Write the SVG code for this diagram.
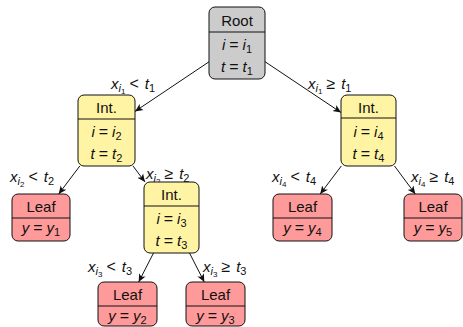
<svg xmlns="http://www.w3.org/2000/svg" width="463" height="327" viewBox="0 0 463 327">
<defs>
<style>
text{font-family:"Liberation Sans",Arial,sans-serif;font-size:15px;fill:#111}
.c{text-anchor:middle}
.m{font-style:italic}
.s{font-size:11px}
.ss{font-size:8px}
.op{font-size:16px}
.box{stroke:#111;stroke-width:1}
.root{fill:#cccccc}
.int{fill:#fff4a3}
.leaf{fill:#ff9a9a}
.div{stroke:#111;stroke-width:1}
.edge{stroke:#111;stroke-width:1;fill:none;marker-end:url(#ah)}
</style>
<marker id="ah" viewBox="0 0 10 10" refX="10" refY="5" markerWidth="8" markerHeight="8" markerUnits="userSpaceOnUse" orient="auto">
<path d="M0,0.5 L10,5 L0,9.5 L2.5,5 Z" fill="#111"/>
</marker>
</defs>
<g id="connectors">
<line class="edge" x1="209" y1="61.8" x2="135" y2="111.4"/>
<line class="edge" x1="265" y1="61.7" x2="341" y2="112.5"/>
<line class="edge" x1="79.8" y1="166" x2="58.7" y2="194"/>
<line class="edge" x1="133" y1="166" x2="145" y2="182"/>
<line class="edge" x1="153.5" y1="253" x2="138.7" y2="282"/>
<line class="edge" x1="189.5" y1="253" x2="204.3" y2="282"/>
<line class="edge" x1="341.3" y1="166" x2="320.2" y2="194"/>
<line class="edge" x1="394.5" y1="166" x2="415.3" y2="194"/>
</g>
<g id="labels">
<text x="111" y="89"><tspan class="m">x</tspan><tspan class="m s" dy="3">i</tspan><tspan class="ss" dy="2">1</tspan><tspan class="op" dy="-5" dx="4">&lt;</tspan><tspan class="m" dx="6">t</tspan><tspan class="s" dy="3">1</tspan></text>
<text x="308" y="89"><tspan class="m">x</tspan><tspan class="m s" dy="3">i</tspan><tspan class="ss" dy="2">1</tspan><tspan class="op" dy="-5" dx="4">≥</tspan><tspan class="m" dx="6">t</tspan><tspan class="s" dy="3">1</tspan></text>
<text x="10" y="182"><tspan class="m">x</tspan><tspan class="m s" dy="3">i</tspan><tspan class="ss" dy="2">2</tspan><tspan class="op" dy="-5" dx="4">&lt;</tspan><tspan class="m" dx="6">t</tspan><tspan class="s" dy="3">2</tspan></text>
<text x="146" y="179"><tspan class="m">x</tspan><tspan class="m s" dy="3">i</tspan><tspan class="ss" dy="2">2</tspan><tspan class="op" dy="-5" dx="4">≥</tspan><tspan class="m" dx="6">t</tspan><tspan class="s" dy="3">2</tspan></text>
<text x="88" y="272"><tspan class="m">x</tspan><tspan class="m s" dy="3">i</tspan><tspan class="ss" dy="2">3</tspan><tspan class="op" dy="-5" dx="4">&lt;</tspan><tspan class="m" dx="6">t</tspan><tspan class="s" dy="3">3</tspan></text>
<text x="203" y="272"><tspan class="m">x</tspan><tspan class="m s" dy="3">i</tspan><tspan class="ss" dy="2">3</tspan><tspan class="op" dy="-5" dx="4">≥</tspan><tspan class="m" dx="6">t</tspan><tspan class="s" dy="3">3</tspan></text>
<text x="272" y="182"><tspan class="m">x</tspan><tspan class="m s" dy="3">i</tspan><tspan class="ss" dy="2">4</tspan><tspan class="op" dy="-5" dx="4">&lt;</tspan><tspan class="m" dx="6">t</tspan><tspan class="s" dy="3">4</tspan></text>
<text x="411" y="182"><tspan class="m">x</tspan><tspan class="m s" dy="3">i</tspan><tspan class="ss" dy="2">4</tspan><tspan class="op" dy="-5" dx="4">≥</tspan><tspan class="m" dx="6">t</tspan><tspan class="s" dy="3">4</tspan></text>
</g>
<g id="root">
<rect class="box root" x="209" y="7" width="56" height="72" rx="6"/>
<line class="div" x1="209" y1="32" x2="265" y2="32"/>
<text class="c" x="237" y="26">Root</text>
<text class="c" x="237" y="50"><tspan class="m">i</tspan><tspan class="op" dx="4">=</tspan><tspan class="m" dx="4">i</tspan><tspan class="s" dy="3">1</tspan></text>
<text class="c" x="237" y="72"><tspan class="m">t</tspan><tspan class="op" dx="4">=</tspan><tspan class="m" dx="4">t</tspan><tspan class="s" dy="3">1</tspan></text>
</g>
<g id="int2">
<rect class="box int" x="78" y="95" width="57" height="71" rx="6"/>
<line class="div" x1="78" y1="119" x2="135" y2="119"/>
<text class="c" x="106.5" y="113">Int.</text>
<text class="c" x="106.5" y="137"><tspan class="m">i</tspan><tspan class="op" dx="4">=</tspan><tspan class="m" dx="4">i</tspan><tspan class="s" dy="3">2</tspan></text>
<text class="c" x="106.5" y="159"><tspan class="m">t</tspan><tspan class="op" dx="4">=</tspan><tspan class="m" dx="4">t</tspan><tspan class="s" dy="3">2</tspan></text>
</g>
<g id="int4">
<rect class="box int" x="341" y="95" width="55" height="71" rx="6"/>
<line class="div" x1="341" y1="118" x2="396" y2="118"/>
<text class="c" x="368.5" y="113">Int.</text>
<text class="c" x="368.5" y="137"><tspan class="m">i</tspan><tspan class="op" dx="4">=</tspan><tspan class="m" dx="4">i</tspan><tspan class="s" dy="3">4</tspan></text>
<text class="c" x="368.5" y="159"><tspan class="m">t</tspan><tspan class="op" dx="4">=</tspan><tspan class="m" dx="4">t</tspan><tspan class="s" dy="3">4</tspan></text>
</g>
<g id="int3">
<rect class="box int" x="144" y="182" width="55" height="71" rx="6"/>
<line class="div" x1="144" y1="206" x2="199" y2="206"/>
<text class="c" x="171.5" y="200">Int.</text>
<text class="c" x="171.5" y="224"><tspan class="m">i</tspan><tspan class="op" dx="4">=</tspan><tspan class="m" dx="4">i</tspan><tspan class="s" dy="3">3</tspan></text>
<text class="c" x="171.5" y="246"><tspan class="m">t</tspan><tspan class="op" dx="4">=</tspan><tspan class="m" dx="4">t</tspan><tspan class="s" dy="3">3</tspan></text>
</g>
<g id="leaf1">
<rect class="box leaf" x="12" y="194" width="58" height="47" rx="6"/>
<line class="div" x1="12" y1="218" x2="70" y2="218"/>
<text class="c" x="41" y="212">Leaf</text>
<text class="c" x="41" y="233"><tspan class="m">y</tspan><tspan class="op" dx="4">=</tspan><tspan class="m" dx="4">y</tspan><tspan class="s" dy="3">1</tspan></text>
</g>
<g id="leaf2">
<rect class="box leaf" x="98" y="282" width="59" height="44" rx="6"/>
<line class="div" x1="98" y1="306" x2="157" y2="306"/>
<text class="c" x="127.5" y="300">Leaf</text>
<text class="c" x="127.5" y="321"><tspan class="m">y</tspan><tspan class="op" dx="4">=</tspan><tspan class="m" dx="4">y</tspan><tspan class="s" dy="3">2</tspan></text>
</g>
<g id="leaf3">
<rect class="box leaf" x="186" y="282" width="59" height="44" rx="6"/>
<line class="div" x1="186" y1="306" x2="245" y2="306"/>
<text class="c" x="215.5" y="300">Leaf</text>
<text class="c" x="215.5" y="321"><tspan class="m">y</tspan><tspan class="op" dx="4">=</tspan><tspan class="m" dx="4">y</tspan><tspan class="s" dy="3">3</tspan></text>
</g>
<g id="leaf4">
<rect class="box leaf" x="273" y="194" width="59" height="47" rx="6"/>
<line class="div" x1="273" y1="218" x2="332" y2="218"/>
<text class="c" x="302.5" y="212">Leaf</text>
<text class="c" x="302.5" y="233"><tspan class="m">y</tspan><tspan class="op" dx="4">=</tspan><tspan class="m" dx="4">y</tspan><tspan class="s" dy="3">4</tspan></text>
</g>
<g id="leaf5">
<rect class="box leaf" x="404" y="194" width="58" height="47" rx="6"/>
<line class="div" x1="404" y1="218" x2="462" y2="218"/>
<text class="c" x="433" y="212">Leaf</text>
<text class="c" x="433" y="233"><tspan class="m">y</tspan><tspan class="op" dx="4">=</tspan><tspan class="m" dx="4">y</tspan><tspan class="s" dy="3">5</tspan></text>
</g>
</svg>
